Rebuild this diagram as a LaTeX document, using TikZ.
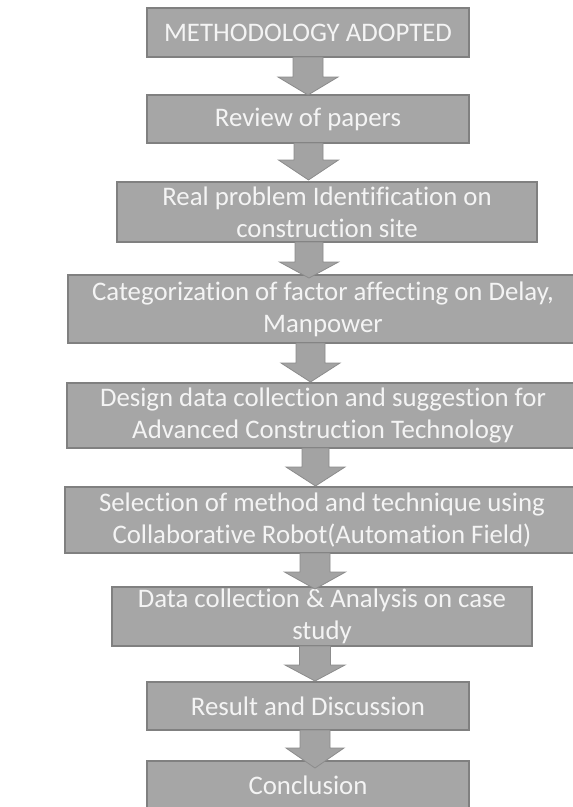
\documentclass[tikz,border=0pt]{standalone}
\usepackage{fontspec}
\setmainfont{Carlito}[Ligatures={NoCommon}]
\definecolor{boxfill}{RGB}{166,166,166}
\definecolor{boxedge}{RGB}{128,128,128}
\definecolor{arrfill}{RGB}{163,163,163}
\definecolor{arredge}{RGB}{140,140,140}
\definecolor{txt}{RGB}{244,244,244}
\newcommand\flowarr[6]{\draw[arr] ([xshift=#2pt-#3pt]#1.south) -- ++(0,#5) -- ++(#3-#4,0) -- ++(#4,#6) -- ++(#4,-#6) -- ++(#3-#4,0) -- ++(0,-#5) -- cycle;}
\begin{document}
\begin{tikzpicture}[x=1pt,y=-1pt,
  box/.style={draw=boxedge, fill=boxfill, line width=1.3pt, inner sep=0pt, outer sep=0pt,
    align=center, text=txt, font=\fontsize{26.8}{32}\selectfont},
  arr/.style={fill=arrfill, draw=arredge, line width=0.8pt, line join=miter}]
\clip (0,0) rectangle (573,807);
\fill[white] (0,0) rectangle (573,807);
\node[box, minimum width=322pt, minimum height=49pt] (b1) at (308,32.5) {METHODOLOGY ADOPTED};
\node[box, minimum width=322pt, minimum height=48pt] (b2) at (308,119) {Review of papers};
\node[box, minimum width=420pt, minimum height=60pt] (b3) at (327,212) {Real problem Identification on\\construction site};
\node[box, minimum width=510pt, minimum height=68pt] (b4) at (323,309) {Categorization of factor affecting on Delay,\\Manpower};
\node[box, minimum width=512pt, minimum height=65pt] (b5) at (323,415.5) {Design data collection and suggestion for\\Advanced Construction Technology};
\node[box, minimum width=514pt, minimum height=66pt] (b6) at (322,520) {Selection of method and technique using\\Collaborative Robot(Automation Field)};
\node[box, minimum width=420pt, minimum height=59pt] (b7) at (322,616.5) {Data collection \& Analysis on case\\study};
\node[box, minimum width=322pt, minimum height=48pt] (b8) at (308,706) {Result and Discussion};
\node[box, minimum width=322pt, minimum height=48pt] (b9) at (308,785) {Conclusion};
\flowarr{b1}{0}{15}{30}{20}{18}
\flowarr{b2}{0.5}{14.5}{30}{17}{20}
\flowarr{b3}{-18}{14}{29.5}{20}{16}
\flowarr{b4}{-12.5}{14.5}{29.5}{20}{19}
\flowarr{b5}{-7.5}{13.5}{29.5}{19}{19}
\flowarr{b6}{-7}{15}{30.5}{19}{17}
\flowarr{b7}{-7}{15.5}{30}{19}{16}
\flowarr{b8}{7}{15}{29}{18}{20}
\end{tikzpicture}
\end{document}
